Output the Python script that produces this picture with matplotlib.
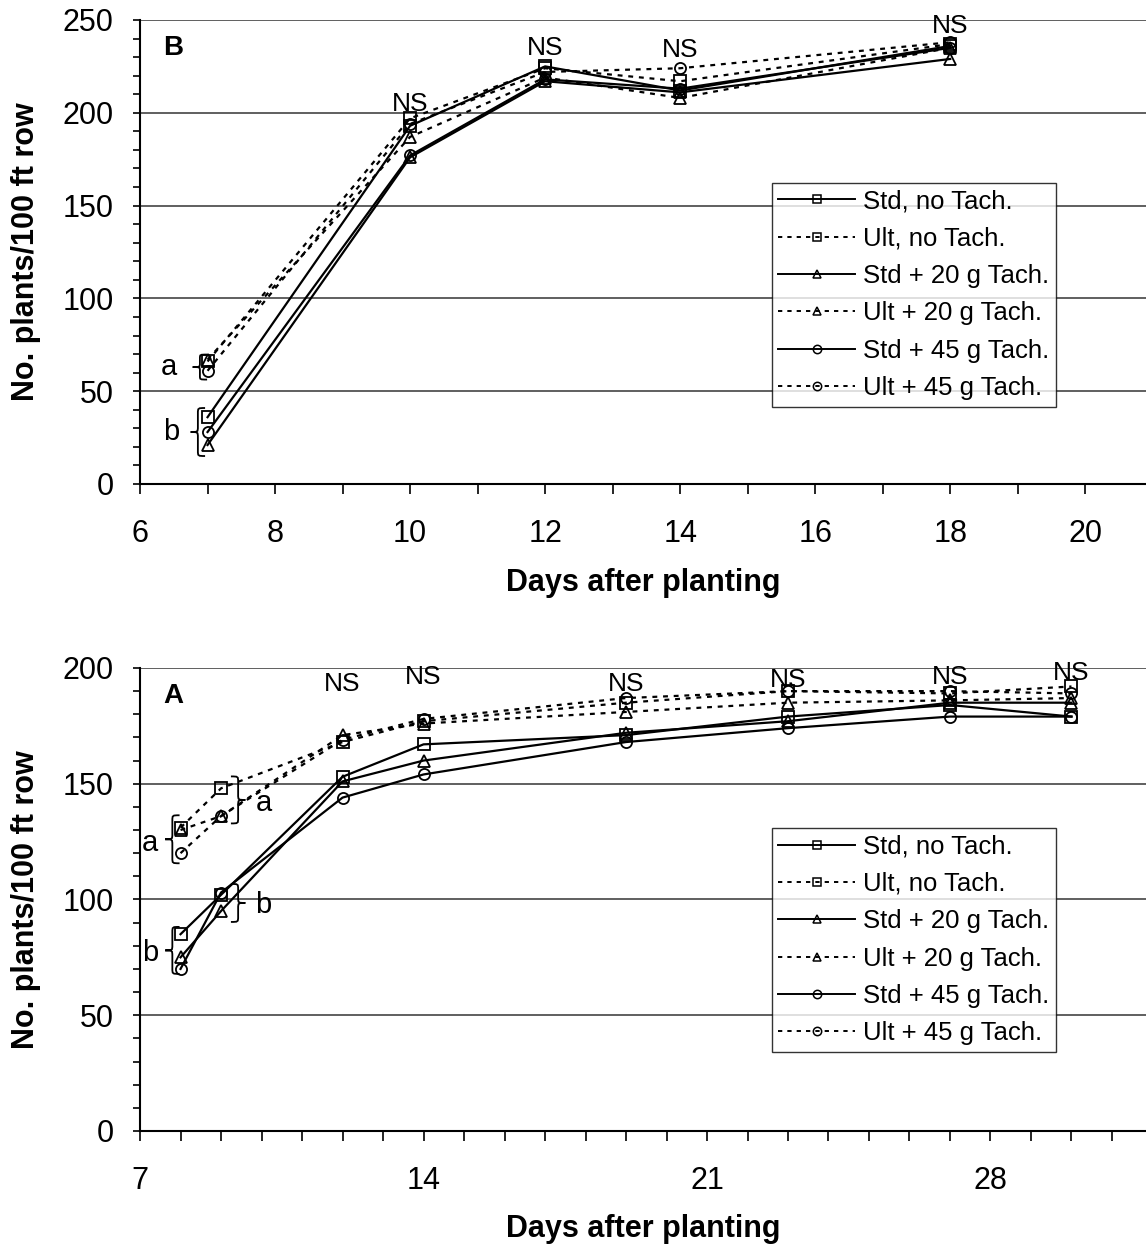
import numpy as np
import matplotlib
matplotlib.use("Agg")
import matplotlib.pyplot as plt
from matplotlib.path import Path
from matplotlib.patches import PathPatch
from matplotlib.lines import Line2D
from matplotlib.transforms import ScaledTranslation

plt.rcParams['font.family'] = ['Liberation Sans', 'DejaVu Sans']

# Panel B (top)
days_b = [7, 10, 12, 14, 18]
std_no_b = [36, 193, 225, 212, 236]
ult_no_b = [66, 197, 224, 217, 237]
std20_b = [21, 176, 217, 211, 229]
ult20_b = [67, 187, 219, 208, 235]
std45_b = [28, 177, 218, 213, 235]
ult45_b = [61, 194, 222, 224, 238]
ns_days_b = [10, 12, 14, 18]
ns_y_b = [205, 235, 234, 247]

# Panel A (bottom)
days_a = [8, 9, 12, 14, 19, 23, 27, 30]
std_no_a = [85, 102, 153, 167, 171, 179, 184, 179]
ult_no_a = [131, 148, 168, 177, 185, 190, 189, 192]
std20_a = [75, 95, 151, 160, 172, 177, 185, 185]
ult20_a = [130, 136, 171, 176, 181, 185, 186, 187]
std45_a = [70, 103, 144, 154, 168, 174, 179, 179]
ult45_a = [120, 136, 169, 178, 187, 190, 190, 189]
ns_days_a = [12, 14, 19, 23, 27, 30]
ns_y_a = [193, 196, 193, 195, 196, 198]

labels = ["Std, no Tach.", "Ult, no Tach.", "Std + 20 g Tach.",
          "Ult + 20 g Tach.", "Std + 45 g Tach.", "Ult + 45 g Tach."]
markers = ['s', 's', '^', '^', 'o', 'o']
dotted = (0, (2.2, 2.6))
styles = ['-', dotted, '-', dotted, '-', dotted]


def brace(ax, x, y, h, w=0.09, right=False):
    # curly brace of height h (inches), tip at (x, y) in data coords
    H = h / 2
    r = min(w * 0.6, H * 0.3)
    s = -1 if right else 1
    verts = [(s * w * 1.6, H), (s * w * 0.8, H), (s * w * 0.8, H), (s * w * 0.8, H - r),
             (s * w * 0.8, r),
             (s * w * 0.8, 0), (s * w * 0.8, 0), (0, 0),
             (s * w * 0.8, 0), (s * w * 0.8, 0), (s * w * 0.8, -r),
             (s * w * 0.8, -H + r),
             (s * w * 0.8, -H), (s * w * 0.8, -H), (s * w * 1.6, -H)]
    codes = [Path.MOVETO, Path.CURVE4, Path.CURVE4, Path.CURVE4,
             Path.LINETO,
             Path.CURVE4, Path.CURVE4, Path.CURVE4,
             Path.CURVE4, Path.CURVE4, Path.CURVE4,
             Path.LINETO,
             Path.CURVE4, Path.CURVE4, Path.CURVE4]
    tr = ax.figure.dpi_scale_trans + ScaledTranslation(x, y, ax.transData)
    ax.add_patch(PathPatch(Path(verts, codes), transform=tr, fill=False,
                           lw=1.3, color='black', clip_on=False))


def style_axes(ax, ymax, xlim, xmajor, xminor, xlab_y):
    ax.set_ylim(0, ymax)
    ax.set_xlim(*xlim)
    ax.set_yticks(np.arange(0, ymax + 1, 50))
    ax.set_yticks(np.arange(0, ymax + 1, 10), minor=True)
    ax.set_xticks(xmajor)
    ax.set_xticks(xminor, minor=True)
    ax.yaxis.grid(True, color='#444444', lw=1.2)
    ax.set_axisbelow(True)
    for sp in ['top', 'right']:
        ax.spines[sp].set_visible(False)
    for sp in ['left', 'bottom']:
        ax.spines[sp].set_linewidth(1.5)
    ax.tick_params(axis='x', which='both', direction='out', length=7, width=1.2,
                   labelsize=22, pad=18)
    ax.tick_params(axis='y', which='both', direction='out', length=5, width=1.2,
                   labelsize=22, pad=14)
    ax.set_xlabel("Days after planting", fontsize=22, fontweight='bold')
    ax.set_ylabel("No. plants/100 ft row", fontsize=22, fontweight='bold')
    ax.yaxis.set_label_coords(-0.098, 0.5)
    ax.xaxis.set_label_coords(0.5, xlab_y)


def draw_series(ax, days, series):
    for vals, m, ls in zip(series, markers, styles):
        ax.plot(days, vals, color='black', lw=1.6, ls=ls, marker=m,
                markersize=8, markerfacecolor='none',
                markeredgecolor='black', markeredgewidth=1.3, clip_on=False)


def add_legend(ax, y_top):
    handles = [Line2D([], [], color='black', lw=1.4, ls=ls, marker=m, markersize=6,
                      markerfacecolor='none', markeredgewidth=1.1)
               for m, ls in zip(markers, styles)]
    leg = ax.legend(handles, labels, loc='upper left', bbox_to_anchor=(0.628, y_top),
                    fontsize=18.5, frameon=True, fancybox=False, edgecolor='black',
                    handlelength=3.0, handletextpad=0.3, borderpad=0.25,
                    labelspacing=0.52, borderaxespad=0)
    leg.get_frame().set_linewidth(1.0)


fig = plt.figure(figsize=(11.46, 12.49), dpi=100)
ax1 = fig.add_axes([0.1222, 0.6125, 0.8778, 0.3715])
ax2 = fig.add_axes([0.1222, 0.0945, 0.8778, 0.3707])

# top panel (B)
style_axes(ax1, 250, (6, 20.9), np.arange(6, 21, 2), np.arange(6, 21, 1), -0.18)
draw_series(ax1, days_b, [std_no_b, ult_no_b, std20_b, ult20_b, std45_b, ult45_b])
for d, y in zip(ns_days_b, ns_y_b):
    ax1.text(d, y, "NS", ha='center', va='center', fontsize=19)
ax1.text(0.023, 0.94, "B", transform=ax1.transAxes, fontsize=20, fontweight='bold',
         ha='left', va='center')
brace(ax1, 6.78, 63, 0.25)
brace(ax1, 6.75, 28, 0.48)
ax1.text(6.42, 63, "a", fontsize=21, ha='center', va='center')
ax1.text(6.46, 28, "b", fontsize=21, ha='center', va='center')
add_legend(ax1, 0.649)

# bottom panel (A)
style_axes(ax2, 200, (7, 31.84), [7, 14, 21, 28], np.arange(7, 32, 1), -0.18)
draw_series(ax2, days_a, [std_no_a, ult_no_a, std20_a, ult20_a, std45_a, ult45_a])
for d, y in zip(ns_days_a, ns_y_a):
    ax2.text(d, y, "NS", ha='center', va='center', fontsize=19)
ax2.text(0.023, 0.94, "A", transform=ax2.transAxes, fontsize=20, fontweight='bold',
         ha='left', va='center')
brace(ax2, 7.62, 126, 0.48)
brace(ax2, 7.62, 78, 0.47)
ax2.text(7.25, 124.5, "a", fontsize=21, ha='center', va='center')
ax2.text(7.25, 77, "b", fontsize=21, ha='center', va='center')
brace(ax2, 9.6, 143, 0.47, right=True)
brace(ax2, 9.6, 98.5, 0.38, right=True)
ax2.text(10.05, 141.5, "a", fontsize=21, ha='center', va='center')
ax2.text(10.05, 97.5, "b", fontsize=21, ha='center', va='center')
add_legend(ax2, 0.654)

fig.savefig("out.png", dpi=100)
